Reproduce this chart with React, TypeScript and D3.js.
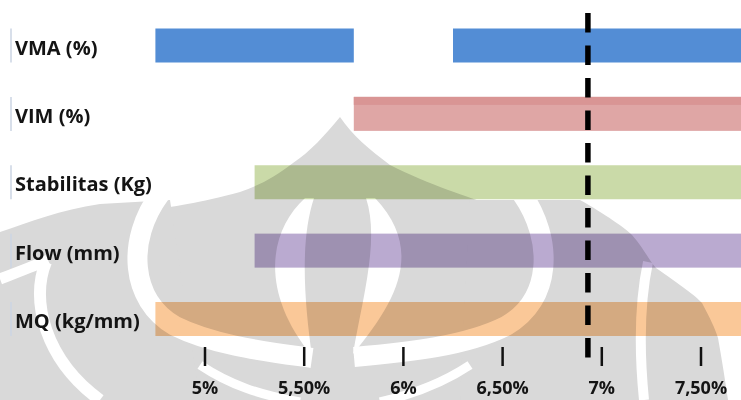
import React from "react";
import * as d3 from "d3";

// ---- data ----
const categories = ["VMA (%)", "VIM (%)", "Stabilitas (Kg)", "Flow (mm)", "MQ (kg/mm)"];
// each category can have several acceptable ranges (start / end in % asphalt content)
const rangeStarts: number[][] = [[4.75, 6.25], [5.75], [5.25], [5.25], [4.75]];
const rangeEnds: number[][] = [[5.75, 7.75], [7.75], [7.75], [7.75], [7.75]];
const tickValues = [5, 5.5, 6, 6.5, 7, 7.5];
const tickLabels = ["5%", "5,50%", "6%", "6,50%", "7%", "7,50%"];
const optimumContent = 6.93;

// ---- styles ----
const barColors = ["#538dd5", "#dfa6a5", "#cadaa8", "#baaad0", "#fac898"];
const FONT = "'Open Sans', sans-serif";
const WM = "#d9d9d9";

export default function App() {
  const W = 741;
  const H = 400;
  const x = d3.scaleLinear().domain([5, 7.5]).range([205, 701]);
  const y = d3.scalePoint<string>().domain(categories).range([45.5, 319]);
  const barH = 34;

  return (
    <svg
      width={W}
      height={H}
      style={{ position: "absolute", left: 0, top: 0, background: "#fff" }}
    >
      <rect x={0} y={0} width={W} height={H} fill="#fff" />

      {/* bars */}
      {categories.map((c, i) =>
        rangeStarts[i].map((s, j) => {
          const e = rangeEnds[i][j];
          const cy = y(c)!;
          return (
            <g key={c + j}>
              <rect
                x={x(s)}
                y={cy - barH / 2}
                width={x(e) - x(s)}
                height={barH}
                fill={barColors[i]}
              />
              {i === 1 && (
                <rect
                  x={x(s)}
                  y={cy - barH / 2}
                  width={x(e) - x(s)}
                  height={8}
                  fill="#d99594"
                />
              )}
            </g>
          );
        })
      )}

      {/* faint watermark (background logo) */}
      <g style={{ mixBlendMode: "multiply" }}>
        {/* central dome */}
        <path
          d="M340,117 C325,135 310,152 293,163 C275,177 260,185 240,192 C200,203 170,207 150,210 L150,400 L560,400 L560,212 C530,210 510,207 490,204 C470,198 430,185 390,165 C370,150 352,135 340,117 Z"
          fill={WM}
        />
        {/* left field */}
        <path d="M0,232 C30,222 60,210 100,204 L170,200 L200,400 L0,400 Z" fill={WM} />
        {/* right field */}
        <path
          d="M470,200 L580,200 C605,214 625,228 632,235 C645,250 650,262 656,268 C680,285 695,295 702,303 C710,318 715,328 718,338 C722,360 725,380 728,400 L460,400 Z"
          fill={WM}
        />
        {/* white cut shapes */}
        <path d="M305,198 C270,230 258,290 312,356 C304,300 300,240 314,198 Z" fill="#fff" />
        <path d="M366,198 C380,240 362,300 353,354 C398,300 424,250 375,198 Z" fill="#fff" />
        <path
          d="M160,194 C126,240 130,300 175,326 C215,346 270,352 312,358"
          fill="none"
          stroke="#fff"
          strokeWidth={20}
        />
        <path
          d="M522,194 C554,240 552,300 506,326 C466,346 410,352 354,357"
          fill="none"
          stroke="#fff"
          strokeWidth={20}
        />
        <path d="M648,262 C640,300 639,350 644,400" fill="none" stroke="#fff" strokeWidth={10} />
        <path d="M0,279 C18,272 34,266 48,260" fill="none" stroke="#fff" strokeWidth={11} />
        <path d="M46,262 C30,300 45,360 100,400" fill="none" stroke="#fff" strokeWidth={12} />
        <path d="M200,365 C230,385 260,395 300,402" fill="none" stroke="#fff" strokeWidth={9} />
        <path d="M470,365 C440,385 410,395 380,402" fill="none" stroke="#fff" strokeWidth={9} />
      </g>

      {/* category labels */}
      {categories.map((c) => {
        const cy = y(c)!;
        return (
          <g key={c}>
            <line x1={11} x2={11} y1={cy - 17} y2={cy + 17} stroke="#cbd4e3" strokeWidth={1.5} />
            <text
              x={15}
              y={cy + 9}
              fontFamily={FONT}
              fontWeight={700}
              fontSize={20}
              fill="#141414"
            >
              {c}
            </text>
          </g>
        );
      })}

      {/* axis ticks */}
      {tickValues.map((t, i) => (
        <g key={t}>
          <line x1={x(t)} x2={x(t)} y1={347} y2={366} stroke="#111" strokeWidth={2.5} />
          <text
            x={x(t)}
            y={394}
            textAnchor="middle"
            fontFamily={FONT}
            fontWeight={700}
            fontSize={18}
            fill="#141414"
          >
            {tickLabels[i]}
          </text>
        </g>
      ))}

      {/* optimum asphalt content */}
      <line
        x1={x(optimumContent)}
        x2={x(optimumContent)}
        y1={13}
        y2={359}
        stroke="#000"
        strokeWidth={5.5}
        strokeDasharray="19.5 13"
      />
    </svg>
  );
}
